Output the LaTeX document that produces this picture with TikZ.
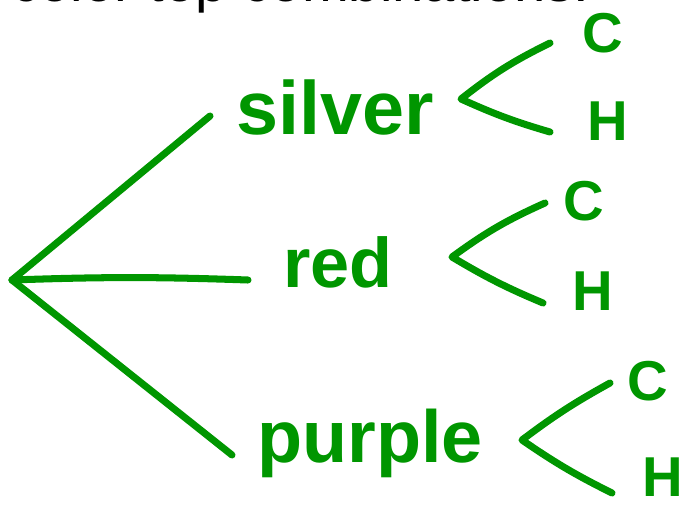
\documentclass[tikz,border=0pt]{standalone}
\usepackage{fontspec}
\setmainfont{Liberation Sans}
\usetikzlibrary{positioning}
\definecolor{pen}{RGB}{0,150,0}

\begin{document}
\begin{tikzpicture}[
    x=0.02cm, y=-0.02cm,
    stroke/.style={draw=pen, line width=4pt, line cap=round, line join=round},
    word/.style={text=pen, font=\bfseries\fontsize{43}{43}\selectfont, inner sep=0pt, anchor=base west},
    leaf/.style={text=pen, font=\bfseries\fontsize{32}{32}\selectfont, inner sep=0pt, anchor=base west},
]
    \clip (0,0) rectangle (690,504);

    % heading, cut off by the top edge
    \node[font=\fontsize{32}{38}\selectfont, inner sep=0pt, anchor=base east] (title) at (590,1.5) {color top combinations:};

    % colours
    \node[word] (silver) at (236,134) {silver};
    \node[word, font=\bfseries\fontsize{40}{40}\selectfont] (red) at (283,287) {red};
    \node[word, font=\bfseries\fontsize{42}{42}\selectfont] (purple) at (257,462) {purple};

    % C / H
    \node[leaf] (silverC) at (582,52) {C};
    \node[leaf] (silverH) at (587,140) {H};
    \node[leaf] (redC) at (563,220) {C};
    \node[leaf] (redH) at (572,310) {H};
    \node[leaf] (purpleC) at (627,400) {C};
    \node[leaf] (purpleH) at (642,496) {H};

    % branch points
    \coordinate (root) at (12,280);
    \coordinate (silverEnd) at (210,116);
    \coordinate (redEnd) at (248,280);
    \coordinate (purpleEnd) at (232,455);

    \coordinate (silverFork) at (461,99);
    \coordinate (silverUp) at (550,43);
    \coordinate (silverDown) at (550,132);
    \coordinate (redFork) at (452,257);
    \coordinate (redUp) at (545,203);
    \coordinate (redDown) at (543,303);
    \coordinate (purpleFork) at (522,440);
    \coordinate (purpleUp) at (610,383);
    \coordinate (purpleDown) at (612,493);

    % first level
    \draw[stroke] (root) -- (silverEnd);
    \draw[stroke] (root) to[bend left=2] (redEnd);
    \draw[stroke] (root) -- (purpleEnd);

    % second level
    \draw[stroke] (silverUp) to[bend right=6] (silverFork) to[bend right=4] (silverDown);
    \draw[stroke] (redUp) to[bend right=6] (redFork) to[bend right=4] (redDown);
    \draw[stroke] (purpleUp) to[bend right=4] (purpleFork) to[bend right=4] (purpleDown);
\end{tikzpicture}
\end{document}
